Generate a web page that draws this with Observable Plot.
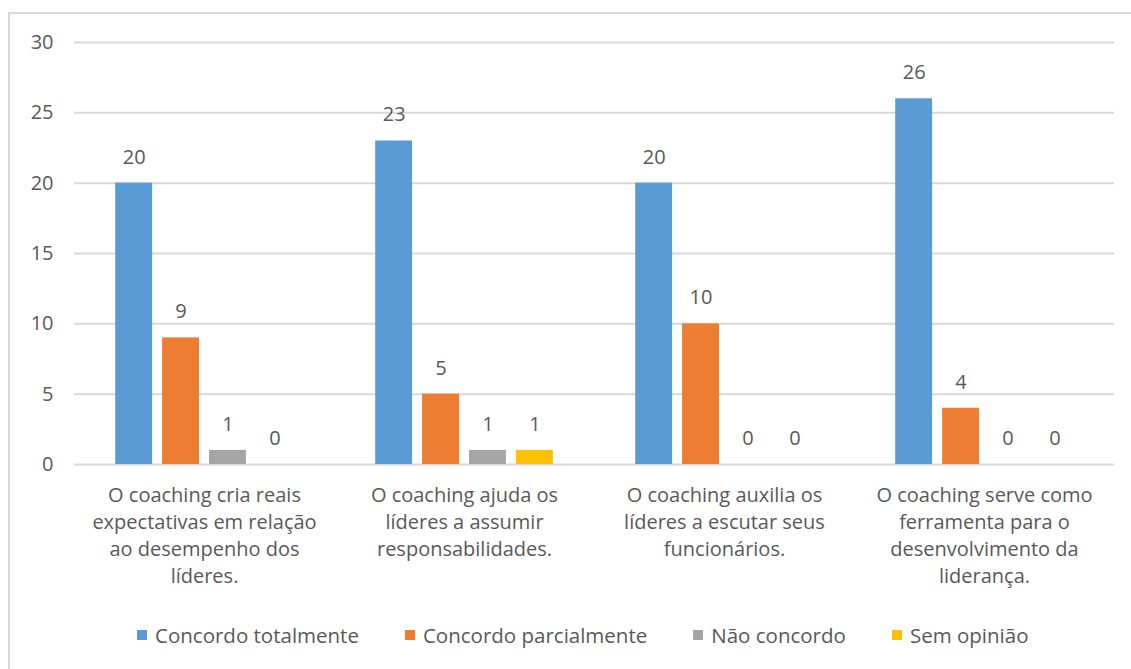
<!DOCTYPE html>
<html>
<head>
<meta charset="utf-8">
<script src="https://cdn.jsdelivr.net/npm/d3@7"></script>
<script src="https://cdn.jsdelivr.net/npm/@observablehq/plot@0.6"></script>
<style>
  html, body { margin: 0; padding: 0; background: #fff; overflow: hidden; }
  #wrap { position: relative; width: 1131px; height: 669px; font-family: "Open Sans", sans-serif; }
  #frame { position: absolute; left: 8px; top: 12px; width: 1140px; height: 700px; border: 2px solid #d9d9d9; box-sizing: border-box; pointer-events: none; }
  #chart { position: absolute; left: 0; top: 0; }
  #legend { position: absolute; left: 137px; top: 621px; display: flex; gap: 46px; font-size: 20.5px; color: #595959; white-space: nowrap; }
  #legend .item { display: flex; align-items: center; }
  #legend .sw { width: 10px; height: 10px; margin-right: 8px; }
</style>
</head>
<body>
<div id="wrap">
  <div id="frame"></div>
  <div id="chart"></div>
  <div id="legend"></div>
</div>
<script>
const categories = [
  "O coaching cria reais\nexpectativas em relação\nao desempenho dos\nlíderes.",
  "O coaching ajuda os\nlíderes a assumir\nresponsabilidades.",
  "O coaching auxilia os\nlíderes a escutar seus\nfuncionários.",
  "O coaching serve como\nferramenta para o\ndesenvolvimento da\nliderança."
];
const series = ["Concordo totalmente", "Concordo parcialmente", "Não concordo", "Sem opinião"];
const colors = ["#5b9bd5", "#ed7d31", "#a5a5a5", "#ffc000"];
const concordoTotalmente = [20, 23, 20, 26];
const concordoParcialmente = [9, 5, 10, 4];
const naoConcordo = [1, 1, 0, 0];
const semOpiniao = [0, 1, 0, 0];
const yTicks = [0, 5, 10, 15, 20, 25, 30];

const valuesBySeries = [concordoTotalmente, concordoParcialmente, naoConcordo, semOpiniao];
const data = [];
categories.forEach((c, i) => {
  series.forEach((s, j) => {
    data.push({cat: c, series: s, value: valuesBySeries[j][i]});
  });
});

const textColor = "#595959";
const fs = 20;
const chart = Plot.plot({
  width: 1131,
  height: 612,
  marginLeft: 73,
  marginRight: 16,
  marginTop: 42,
  marginBottom: 148,
  style: {fontFamily: "'Open Sans', sans-serif", fontSize: fs + "px", color: textColor, background: "transparent"},
  fx: {domain: categories, padding: 0, label: null},
  x: {domain: series, paddingInner: 0.213, paddingOuter: 0.878, round: false, axis: null},
  y: {domain: [0, 30], label: null},
  color: {domain: series, range: colors},
  marks: [
    Plot.gridY(yTicks, {stroke: "#d9d9d9", strokeOpacity: 1, strokeWidth: 2}),
    Plot.axisY(yTicks, {tickSize: 0, tickPadding: 21, fontSize: fs, fill: textColor, label: null}),
    Plot.axisFx({anchor: "bottom", tickSize: 0, tickPadding: 18, fontSize: fs, fill: textColor, lineHeight: 1.35, label: null}),
    Plot.barY(data, {fx: "cat", x: "series", y: "value", fill: "series"}),
    Plot.text(data, {fx: "cat", x: "series", y: "value", text: d => String(d.value), dy: -26, fontSize: fs, fill: textColor})
  ]
});
document.getElementById("chart").appendChild(chart);

const legend = document.getElementById("legend");
series.forEach((s, i) => {
  const item = document.createElement("div");
  item.className = "item";
  const sw = document.createElement("span");
  sw.className = "sw";
  sw.style.background = colors[i];
  const t = document.createElement("span");
  t.textContent = s;
  item.appendChild(sw);
  item.appendChild(t);
  legend.appendChild(item);
});
</script>
</body>
</html>
